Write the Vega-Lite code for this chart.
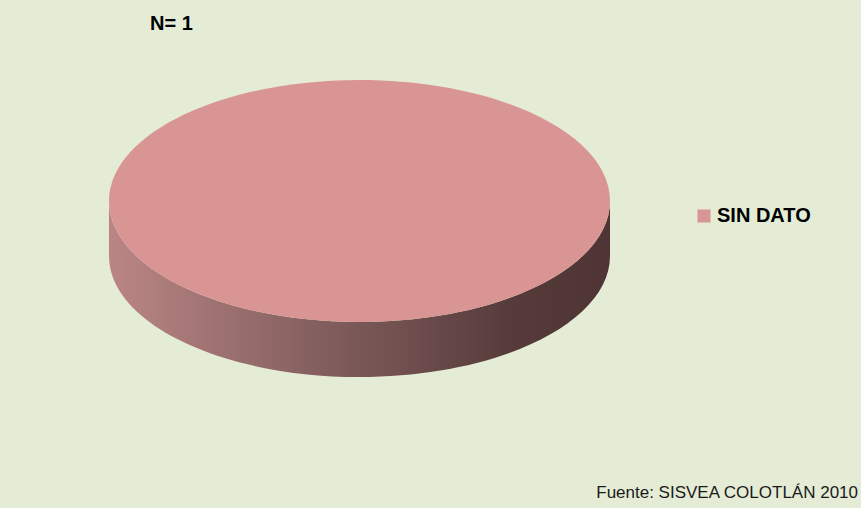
{
  "$schema": "https://vega.github.io/schema/vega-lite/v6.json",
  "width": 861,
  "height": 508,
  "padding": 0,
  "background": "#E5ECD5",
  "config": {"view": {"stroke": null, "fill": "#E5ECD5"}},
  "data": {"values": [{"category": "SIN DATO", "value": 1}]},
  "layer": [
    {
      "mark": {
        "type": "point",
        "filled": true,
        "opacity": 1,
        "strokeWidth": 0,
        "size": 251001,
        "xOffset": -71,
        "yOffset": -53,
        "shape": "M -1 0 L -1 0.22 C -1 0.4868 -0.5523 0.703 0 0.703 C 0.5523 0.703 1 0.4868 1 0.22 L 1 0 C 1 0.2668 0.5523 0.483 0 0.483 C -0.5523 0.483 -1 0.2668 -1 0 Z",
        "fill": {
          "gradient": "linear",
          "x1": 0, "y1": 0, "x2": 1, "y2": 0,
          "stops": [
            {"offset": 0, "color": "#BA8685"},
            {"offset": 0.45, "color": "#805C5C"},
            {"offset": 0.8, "color": "#573B3B"},
            {"offset": 1, "color": "#4E3434"}
          ]
        }
      },
      "encoding": {"detail": {"field": "category"}}
    },
    {
      "mark": {
        "type": "point",
        "filled": true,
        "opacity": 1,
        "strokeWidth": 0,
        "size": 251001,
        "xOffset": -71,
        "yOffset": -53,
        "shape": "M -1 0 C -1 -0.2668 -0.5523 -0.483 0 -0.483 C 0.5523 -0.483 1 -0.2668 1 0 C 1 0.2668 0.5523 0.483 0 0.483 C -0.5523 0.483 -1 0.2668 -1 0 Z"
      },
      "encoding": {
        "color": {
          "field": "category",
          "type": "nominal",
          "scale": {"domain": ["SIN DATO"], "range": ["#D99594"]},
          "legend": {
            "title": null,
            "orient": "none",
            "legendX": 694,
            "legendY": 206,
            "symbolType": "square",
            "symbolSize": 169,
            "symbolStrokeWidth": 0,
            "symbolOpacity": 1,
            "labelFont": "Liberation Sans",
            "labelFontWeight": "bold",
            "labelFontSize": 20,
            "labelColor": "#000000",
            "labelOffset": 3
          }
        }
      }
    },
    {
      "mark": {"type": "text", "text": "N= 1", "x": 150, "y": 30, "align": "left", "baseline": "alphabetic", "font": "Liberation Sans", "fontWeight": "bold", "fontSize": 20, "color": "#000000"},
      "encoding": {}
    },
    {
      "mark": {"type": "text", "text": "Fuente: SISVEA COLOTLÁN 2010", "x": 858, "y": 498, "align": "right", "baseline": "alphabetic", "font": "Liberation Sans", "fontSize": 17, "color": "#1A1A1A"},
      "encoding": {}
    }
  ]
}
